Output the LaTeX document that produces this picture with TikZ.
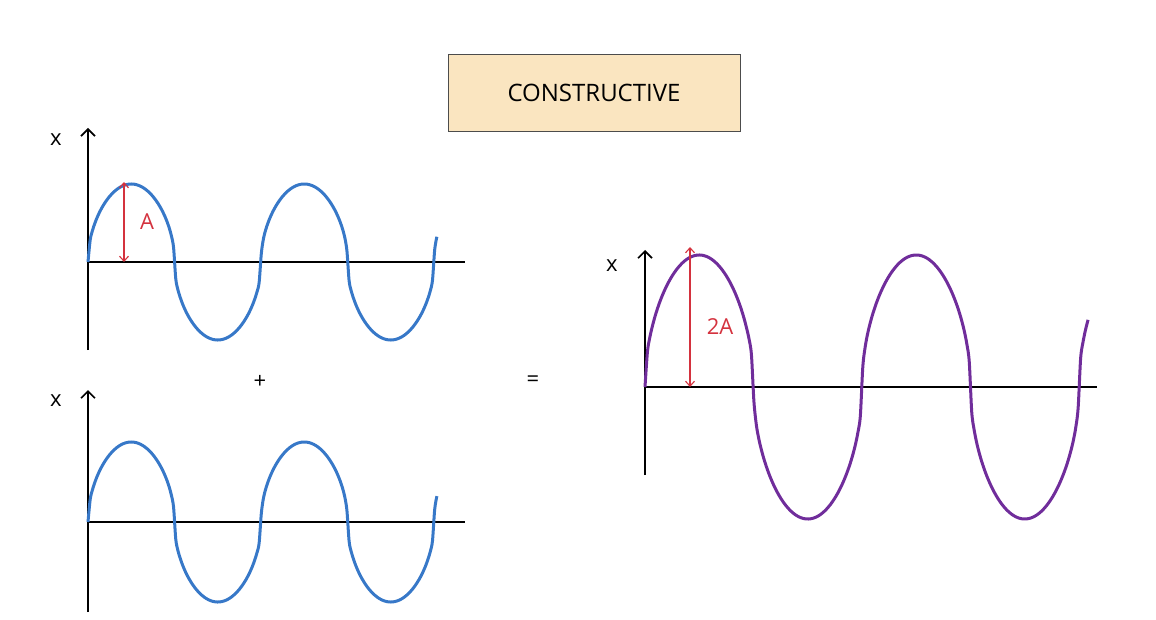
\documentclass[tikz,border=0pt]{standalone}
\usepackage{fontspec}
\setmainfont{Open Sans}
\usetikzlibrary{arrows.meta}
\definecolor{waveblue}{RGB}{55,120,200}
\definecolor{wavepurple}{RGB}{112,45,155}
\definecolor{ampred}{RGB}{212,50,62}
\definecolor{titlefill}{RGB}{250,229,192}
\begin{document}
\begin{tikzpicture}[x=1pt,y=-1pt,
    axis/.style={line width=1.6pt,-{Straight Barb[length=7pt,width=14pt]}},
    baseline/.style={line width=1.6pt},
    bluewave/.style={line width=3pt,waveblue},
    purplewave/.style={line width=3pt,wavepurple},
    amp/.style={ampred,line width=1.1pt,{Straight Barb[length=5pt,width=9pt]}-{Straight Barb[length=5pt,width=9pt]}},
    lbl/.style={font=\fontsize{22}{24}\selectfont}]
  \useasboundingbox (0,0) rectangle (1156,620);
  % title
  \node (title) [draw=black!70, line width=1pt, fill=titlefill, minimum width=292pt, minimum height=77pt,
    font=\fontsize{24}{26}\selectfont] at (594,93) {CONSTRUCTIVE};
  % first wave
  \coordinate (o1) at (88,262);
  \draw[axis] (88,350) -- (88,128);
  \draw[baseline] (o1) -- (465,262);
  \node (x1) [lbl] at (56,140) {x};
  \draw[bluewave] plot[domain=0:726, samples=160, smooth]
    ({88+\x/180*86.5}, {262-78*sign(sin(\x))*abs(sin(\x))^0.5});
  \coordinate (a1) at (124,262);
  \coordinate (b1) at (124,182);
  \draw[amp] (a1) -- (b1);
  \node (ampA) [lbl, ampred] at (147,222) {A};
  % second wave
  \coordinate (o2) at (88,522);
  \draw[axis] (88,612) -- (88,390);
  \draw[baseline] (o2) -- (465,522);
  \node (x2) [lbl] at (56,401) {x};
  \draw[bluewave] plot[domain=0:726, samples=160, smooth]
    ({88+\x/180*86.5}, {522-80*sign(sin(\x))*abs(sin(\x))^0.5});
  \node (plus) [lbl] at (260,382) {+};
  \node (equals) [lbl] at (533,381) {=};
  % resulting wave
  \coordinate (o3) at (645,387);
  \draw[axis] (645,475) -- (645,250);
  \draw[baseline] (o3) -- (1097,387);
  \node (x3) [lbl] at (612,266) {x};
  \draw[purplewave] plot[domain=0:735, samples=180, smooth]
    ({645+\x/180*108.5}, {387-132*sign(sin(\x))*abs(sin(\x))^0.5});
  \coordinate (a3) at (690,387);
  \coordinate (b3) at (690,247);
  \draw[amp] (a3) -- (b3);
  \node (amp2A) [lbl, ampred] at (720,327) {2A};
\end{tikzpicture}
\end{document}
